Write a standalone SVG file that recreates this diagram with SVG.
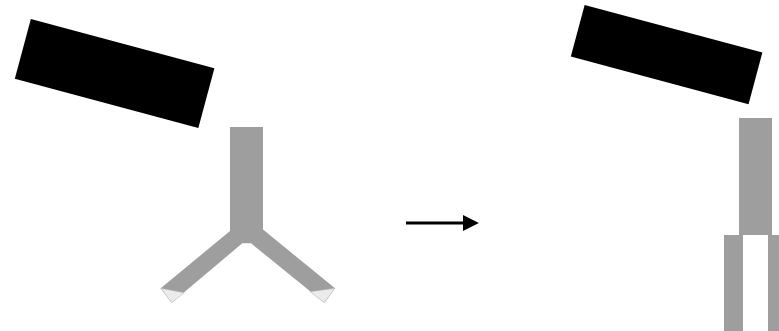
<svg xmlns="http://www.w3.org/2000/svg" width="779" height="331" viewBox="0 0 779 331">
<style>
.blk{fill:#000}
.gry{fill:#9e9e9e}
.tip{fill:#ebebeb;stroke:#b0b0b0;stroke-width:0.5}
.conn{stroke:#000;stroke-width:3;fill:none}
</style>
<defs>
<marker id="ah" viewBox="0 0 10 10" refX="0" refY="5" markerWidth="5.3" markerHeight="5.3" markerUnits="strokeWidth" orient="auto">
<path d="M0,0 L10,5 L0,10 z" fill="#000"/>
</marker>
</defs>
<rect width="779" height="331" fill="#fff"/>
<g id="block-left">
<rect class="blk" x="-95" y="-31" width="190" height="62" transform="translate(114.6 73.5) rotate(15)"/>
</g>
<g id="y-shape">
<polygon class="gry" points="230,127 263,127 263,229.5 335,288.3 324.3,302.7 251,243.3 242.3,243.3 171.7,302.7 160.7,288.3 230,231"/>
<polygon class="tip" points="160.7,288.3 184.3,292.7 171.7,302.7"/>
<polygon class="tip" points="310,291.7 335,288.3 324.3,302.7"/>
</g>
<g id="block-right">
<rect class="blk" x="-92" y="-26.7" width="184" height="53.4" transform="translate(666.6 54.6) rotate(15)"/>
</g>
<g id="split-shape">
<rect class="gry" x="739" y="118" width="33" height="117"/>
<rect class="gry" x="724" y="235" width="19" height="96"/>
<rect class="gry" x="768" y="235" width="11" height="96"/>
</g>
<g id="connectors">
<line class="conn" x1="406" y1="223" x2="463" y2="223" marker-end="url(#ah)"/>
</g>
</svg>
